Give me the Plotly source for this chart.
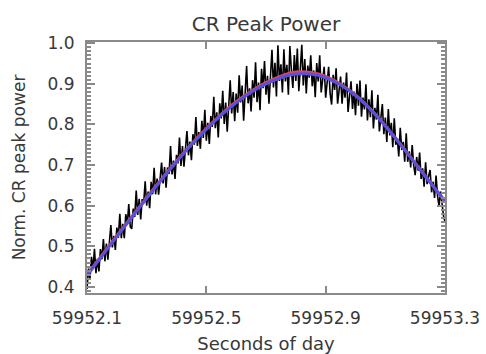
import plotly.graph_objects as go

# Sample timing of the measured trace (seconds of day)
t_start = 59952.1
t_step = 0.005

power = [
    0.395, 0.445, 0.420, 0.474, 0.444, 0.494, 0.434, 0.469, 0.438, 0.493,
    0.468, 0.518, 0.463, 0.507, 0.467, 0.507, 0.552, 0.497, 0.526, 0.491,
    0.546, 0.521, 0.580, 0.520, 0.555, 0.520, 0.579, 0.554, 0.604, 0.548,
    0.543, 0.593, 0.572, 0.637, 0.577, 0.617, 0.566, 0.616, 0.606, 0.660,
    0.600, 0.635, 0.594, 0.659, 0.628, 0.693, 0.628, 0.667, 0.627, 0.666,
    0.706, 0.655, 0.695, 0.644, 0.694, 0.678, 0.747, 0.677, 0.711, 0.666,
    0.725, 0.704, 0.768, 0.698, 0.747, 0.696, 0.740, 0.784, 0.724, 0.758,
    0.712, 0.776, 0.750, 0.818, 0.747, 0.781, 0.740, 0.809, 0.767, 0.836,
    0.760, 0.804, 0.752, 0.821, 0.794, 0.868, 0.791, 0.830, 0.768, 0.852,
    0.815, 0.883, 0.801, 0.854, 0.782, 0.851, 0.909, 0.827, 0.880, 0.808,
    0.876, 0.829, 0.921, 0.854, 0.896, 0.809, 0.887, 0.944, 0.852, 0.889,
    0.832, 0.909, 0.866, 0.953, 0.855, 0.903, 0.835, 0.937, 0.889, 0.956,
    0.873, 0.920, 0.851, 0.938, 0.984, 0.891, 0.952, 0.869, 0.995, 0.907,
    0.948, 0.879, 0.985, 0.906, 0.947, 0.873, 0.993, 0.934, 0.890, 0.971,
    0.907, 0.987, 0.882, 0.936, 0.996, 0.896, 0.961, 0.876, 0.945, 0.915,
    0.970, 0.894, 0.933, 0.867, 0.951, 0.906, 0.970, 0.879, 0.908, 0.942,
    0.866, 0.904, 0.942, 0.876, 0.849, 0.922, 0.885, 0.938, 0.851, 0.884,
    0.918, 0.851, 0.903, 0.866, 0.928, 0.831, 0.873, 0.906, 0.838, 0.881,
    0.823, 0.900, 0.846, 0.908, 0.819, 0.866, 0.837, 0.899, 0.810, 0.862,
    0.818, 0.884, 0.790, 0.841, 0.812, 0.873, 0.783, 0.819, 0.850, 0.776,
    0.817, 0.757, 0.838, 0.773, 0.804, 0.744, 0.815, 0.750, 0.766, 0.721,
    0.792, 0.737, 0.757, 0.708, 0.778, 0.708, 0.734, 0.694, 0.749, 0.700,
    0.675, 0.720, 0.686, 0.731, 0.666, 0.692, 0.647, 0.707, 0.653, 0.673,
    0.688, 0.633, 0.659, 0.619, 0.674, 0.624, 0.599, 0.635, 0.600, 0.575,
    0.560,
]
t = [t_start + i * t_step for i in range(len(power))]

# Fitted curves
fit_t = [59952.10, 59952.15, 59952.20, 59952.25, 59952.30, 59952.35, 59952.40,
         59952.45, 59952.50, 59952.55, 59952.60, 59952.65, 59952.70, 59952.75,
         59952.80, 59952.85, 59952.90, 59952.95, 59953.00, 59953.05, 59953.10,
         59953.15, 59953.20, 59953.25, 59953.30]
fit_red = [0.430, 0.478, 0.526, 0.573, 0.620, 0.666, 0.710, 0.752, 0.790,
           0.825, 0.856, 0.882, 0.903, 0.919, 0.929, 0.928, 0.918, 0.899,
           0.873, 0.838, 0.797, 0.752, 0.705, 0.658, 0.610]
fit_blue = [0.428, 0.476, 0.524, 0.571, 0.618, 0.664, 0.708, 0.750, 0.788,
            0.823, 0.853, 0.879, 0.900, 0.915, 0.924, 0.924, 0.915, 0.897,
            0.871, 0.837, 0.796, 0.751, 0.704, 0.657, 0.612]

x_ticks = [59952.1, 59952.5, 59952.9, 59953.3]
x_tick_labels = ["59952.1", "59952.5", "59952.9", "59953.3"]
y_ticks = [0.4, 0.5, 0.6, 0.7, 0.8, 0.9, 1.0]
y_tick_labels = ["0.4", "0.5", "0.6", "0.7", "0.8", "0.9", "1.0"]

fig = go.Figure()
fig.add_trace(go.Scatter(x=t, y=power, mode="lines",
                         line=dict(color="black", width=1.6), showlegend=False))
fig.add_trace(go.Scatter(x=fit_t, y=fit_red, mode="lines", line_shape="spline",
                         line=dict(color="#d8485a", width=3), showlegend=False))
fig.add_trace(go.Scatter(x=fit_t, y=fit_blue, mode="lines", line_shape="spline",
                         line=dict(color="#5b4fe0", width=3), showlegend=False))

font_c = "#383838"
axis_c = "#8a8a8a"
fig.update_layout(
    width=486, height=354,
    margin=dict(l=87, r=41, t=42, b=61),
    paper_bgcolor="white", plot_bgcolor="white",
    font=dict(family="DejaVu Sans", size=17, color=font_c),
    title=dict(text="CR Peak Power", x=0.5, xref="paper", y=1 - 24 / 354,
               yref="container", yanchor="middle",
               font=dict(size=20, color=font_c)),
    xaxis=dict(range=[59952.1, 59953.3], tickvals=x_ticks, ticktext=x_tick_labels,
               ticks="inside", ticklen=7, tickwidth=1.5, tickcolor=axis_c,
               ticklabelstandoff=9, automargin=False,
               showline=True, linecolor=axis_c, linewidth=2, mirror="ticks",
               showgrid=False, zeroline=False,
               title=dict(text="Seconds of day", font=dict(size=18), standoff=12)),
    yaxis=dict(range=[0.385, 1.003], tickvals=y_ticks, ticktext=y_tick_labels,
               ticks="inside", ticklen=8, tickwidth=1.5, tickcolor=axis_c,
               ticklabelstandoff=7, automargin=False,
               minor=dict(dtick=0.01, tick0=0.4, ticks="inside", ticklen=4,
                          tickcolor=axis_c, showgrid=False),
               showline=True, linecolor=axis_c, linewidth=2, mirror="ticks",
               showgrid=False, zeroline=False,
               title=dict(text="Norm. CR peak power", font=dict(size=17), standoff=18)),
)

fig.write_html("out.html")
